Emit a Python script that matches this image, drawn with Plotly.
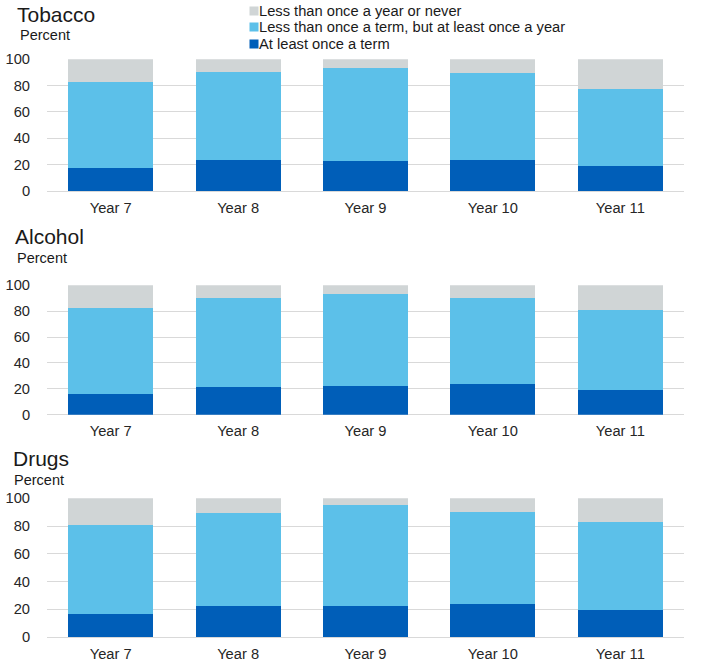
import plotly.graph_objects as go

W, H = 709, 671

years = ["Year 7", "Year 8", "Year 9", "Year 10", "Year 11"]
series_names = [
    "At least once a term",
    "Less than once a term, but at least once a year",
    "Less than once a year or never",
]
colors = ["#005EB8", "#5CC0E9", "#D0D5D6"]

# Tobacco
tobacco_term = [17.5, 23.5, 22.8, 23.5, 19.0]
tobacco_year = [65.3, 66.9, 70.6, 66.1, 58.5]
tobacco_never = [17.2, 9.6, 6.6, 10.4, 22.5]
# Alcohol
alcohol_term = [16.0, 21.4, 22.2, 23.7, 19.1]
alcohol_year = [66.5, 68.8, 71.1, 66.5, 61.8]
alcohol_never = [17.5, 9.8, 6.7, 9.8, 19.1]
# Drugs
drugs_term = [16.6, 22.4, 22.4, 23.8, 19.5]
drugs_year = [64.2, 67.0, 72.8, 66.3, 63.4]
drugs_never = [19.2, 10.6, 4.8, 9.9, 17.1]

panels = [
    ("Tobacco", [tobacco_term, tobacco_year, tobacco_never]),
    ("Alcohol", [alcohol_term, alcohol_year, alcohol_never]),
    ("Drugs", [drugs_term, drugs_year, drugs_never]),
]

y_ticks = [0, 20, 40, 60, 80, 100]

fig = go.Figure()

def px_y(py):
    return 1 - py / H

def px_x(px):
    return px / W

domains_px = [(59.3, 191.0), (285.3, 414.7), (498.3, 637.0)]
xdom = [px_x(47), px_x(684)]

font_family = "Liberation Sans, Arial, sans-serif"
grid_col = "#D9D9D9"
tick_col = "#262626"
txt_col = "#1A1A1A"
TICK_SIZE = 14.7

for i, (name, vals) in enumerate(panels):
    suffix = "" if i == 0 else str(i + 1)
    for s, (sname, col) in enumerate(zip(series_names, colors)):
        fig.add_trace(go.Bar(
            x=years, y=vals[s], name=sname, marker=dict(color=col, line=dict(width=0)),
            xaxis="x" + suffix, yaxis="y" + suffix, showlegend=False,
            hovertemplate="%{x}: %{y}<extra>" + sname + "</extra>",
        ))
    top, bot = domains_px[i]
    fig.layout["xaxis" + suffix] = dict(
        domain=xdom, anchor="y" + suffix, showgrid=False, zeroline=False,
        showline=False, tickfont=dict(size=TICK_SIZE, color=tick_col, family=font_family),
        ticks="outside", ticklen=3, tickcolor="rgba(0,0,0,0)", automargin=False,
        categoryorder="array", categoryarray=years,
    )
    fig.layout["yaxis" + suffix] = dict(
        domain=[px_y(bot), px_y(top)], anchor="x" + suffix, range=[0, 100],
        tickvals=y_ticks, showgrid=True, gridcolor=grid_col, gridwidth=1,
        zeroline=True, zerolinecolor=grid_col, zerolinewidth=1, automargin=False,
        showline=False, tickfont=dict(size=TICK_SIZE, color=tick_col, family=font_family),
        ticks="outside", ticklen=13, tickcolor="rgba(0,0,0,0)",
    )

annotations = []
titles = [("Tobacco", 15, 14, 18, 35), ("Alcohol", 13, 236, 15, 258), ("Drugs", 11, 458, 11.5, 479.5)]
for t, tx, ty, px_, py_ in titles:
    annotations.append(dict(text=t, x=px_x(tx), y=px_y(ty), xref="paper", yref="paper",
                            xanchor="left", yanchor="middle", showarrow=False,
                            font=dict(size=21, color=txt_col, family=font_family)))
    annotations.append(dict(text="Percent", x=px_x(px_), y=px_y(py_), xref="paper", yref="paper",
                            xanchor="left", yanchor="middle", showarrow=False,
                            font=dict(size=14.5, color=txt_col, family=font_family)))

# legend (top to bottom: never, year, term)
leg_rows = [(series_names[2], colors[2], 11), (series_names[1], colors[1], 27), (series_names[0], colors[0], 44)]
for sname, col, ly in leg_rows:
    annotations.append(dict(text=" ", x=px_x(253.5), y=px_y(ly), xref="paper", yref="paper",
                            xanchor="center", yanchor="middle", showarrow=False,
                            width=8, height=8, bgcolor=col, borderpad=0,
                            font=dict(size=4)))
    annotations.append(dict(text=sname, x=px_x(256.5), y=px_y(ly), xref="paper", yref="paper",
                            xanchor="left", yanchor="middle", showarrow=False,
                            font=dict(size=14.7, color=txt_col, family=font_family)))

fig.update_layout(
    width=W, height=H, barmode="stack", bargap=0.333,
    margin=dict(l=0, r=0, t=0, b=0, autoexpand=False),
    paper_bgcolor="white", plot_bgcolor="white",
    annotations=annotations, showlegend=False,
    font=dict(family=font_family),
)

fig.write_html("out.html")
